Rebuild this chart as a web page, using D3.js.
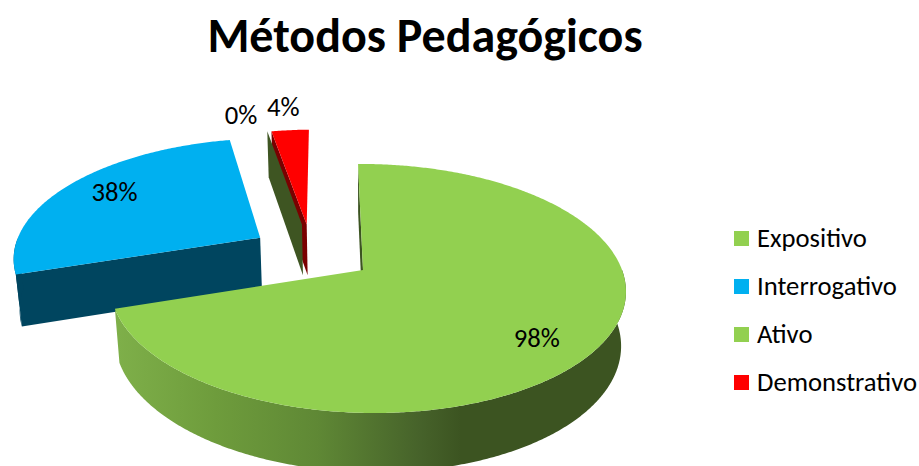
<!DOCTYPE html>
<html><head><meta charset="utf-8">
<script src="https://cdn.jsdelivr.net/npm/d3@7/dist/d3.min.js"></script>
<style>html,body{margin:0;padding:0;background:#fff;overflow:hidden}svg{display:block}text{font-family:Carlito,Calibri,Lato,"Open Sans",sans-serif;fill:#000}</style>
</head><body><svg id="c" width="919" height="466"></svg>
<script>
const title = "Métodos Pedagógicos";
const categories = ["Expositivo","Interrogativo","Ativo","Demonstrativo"];
const values = [98,38,0,4];
const labels = ["98%","38%","0%","4%"];
const colors = ["#92D050","#00B0F0","#92D050","#FF0000"];
const wallColors = ["#3C5421","#00455F","#3E5522","#7A0000"];

// view / projection parameters of the tilted disc
const W=919,H=466;
const view={cx:363,cy:270,rx:254.8,ry:121.75,sh:5.7,k:0.1486,m:0.0164,h:0.018,depth:54};
const explodeDeg=[0,303.7,328.2,330.3], explodeDist=[0,0.501,0.4665,0.456], sliceR=[1,1.02,1,1];
const labelNudge=[[-21,1],[-3,-6],[-12,22],[0,16]];
const labelR=[0.85,0.75,1.5,1.5];

const svg=d3.select("#c");
const rad=Math.PI/180;
function project(u,v,z){
  const den=1-view.k*v-view.m*u+view.h*z;
  return [view.cx+(view.rx*u+view.sh*v)/den, view.cy+(view.ry*v+view.depth*z)/den];
}
const pie=d3.pie().sort(null).value(d=>d).startAngle(0).endAngle(2*Math.PI);
const arcs=pie(values);
const line=d3.line();
const off=i=>[explodeDist[i]*Math.sin(explodeDeg[i]*rad),-explodeDist[i]*Math.cos(explodeDeg[i]*rad)];
function rim(i,a0,a1,z){
  const [ox,oy]=off(i), n=Math.max(2,Math.ceil(Math.abs(a1-a0)/(0.5*rad))), r=sliceR[i];
  return d3.range(n+1).map(j=>{const a=a0+(a1-a0)*j/n;return project(ox+r*Math.sin(a),oy-r*Math.cos(a),z);});
}
const apex=(i,z)=>{const [ox,oy]=off(i);return project(ox,oy,z);};

const defs=svg.append("defs");
const grad=defs.append("linearGradient").attr("id","gw").attr("gradientUnits","userSpaceOnUse")
  .attr("x1",113).attr("x2",625).attr("y1",0).attr("y2",0);
[[0,"#7FB04A"],[0.2,"#6E9C3C"],[0.4,"#5F8835"],[0.6,"#46622A"],[0.68,"#3C5421"],[1,"#3C5421"]].forEach(s=>grad.append("stop").attr("offset",s[0]).attr("stop-color",s[1]));

function radialWall(i,a){
  return line([apex(i,0),rim(i,a,a,0)[0],rim(i,a,a,1)[0],apex(i,1)])+"Z";
}
function outerWall(i,a0,a1){
  return line(rim(i,a0,a1,0).concat(rim(i,a0,a1,1).reverse()))+"Z";
}
function face(g,i){
  const d=arcs[i];
  const pts=[apex(i,0)].concat(rim(i,d.startAngle,d.endAngle,0));
  g.append("path").attr("d",line(pts)+"Z").attr("fill",colors[i]);
}
const gBack=svg.append("g");
// demonstrativo wall, then the zero-width Ativo wall, then demonstrativo face
gBack.append("path").attr("d",radialWall(3,arcs[3].startAngle)).attr("fill",wallColors[3]);
gBack.append("path").attr("d",radialWall(2,arcs[2].startAngle)).attr("fill",wallColors[2]);
face(gBack,3);
// interrogativo
const gBlue=svg.append("g");
gBlue.append("path").attr("d",radialWall(1,arcs[1].startAngle)).attr("fill",wallColors[1]);
gBlue.append("path").attr("d",outerWall(1,arcs[1].startAngle,1.5*Math.PI)).attr("fill",wallColors[1]);
face(gBlue,1);
// expositivo
const gGreen=svg.append("g");
gGreen.append("path").attr("d",radialWall(0,arcs[0].startAngle)).attr("fill",wallColors[0]);
gGreen.append("path").attr("d",outerWall(0,Math.PI/2,arcs[0].endAngle)).attr("fill","url(#gw)");
face(gGreen,0);
// data labels
arcs.forEach((d,i)=>{
  const [ox,oy]=off(i), a=(d.startAngle+d.endAngle)/2, r=labelR[i];
  const p=project(ox+r*Math.sin(a),oy-r*Math.cos(a),0);
  svg.append("text").attr("class","dl").attr("x",p[0]+labelNudge[i][0]).attr("y",p[1]+labelNudge[i][1])
   .attr("text-anchor","middle").attr("dominant-baseline","central").attr("font-size",26.67).text(labels[i]);
});
// title
svg.append("text").attr("x",425).attr("y",52).attr("text-anchor","middle").attr("font-size",48).attr("font-weight",700).text(title);
// legend
const ly=d3.scalePoint().domain(categories).range([238,382]);
const lg=svg.selectAll(".lg").data(categories).join("g").attr("class","lg").attr("transform",d=>`translate(734,${ly(d)})`);
lg.append("rect").attr("x",0).attr("y",-7).attr("width",15).attr("height",15).attr("fill",(d,i)=>colors[i]);
lg.append("text").attr("x",23).attr("y",0).attr("dominant-baseline","central").attr("font-size",26.67).text(d=>d);
</script></body></html>
